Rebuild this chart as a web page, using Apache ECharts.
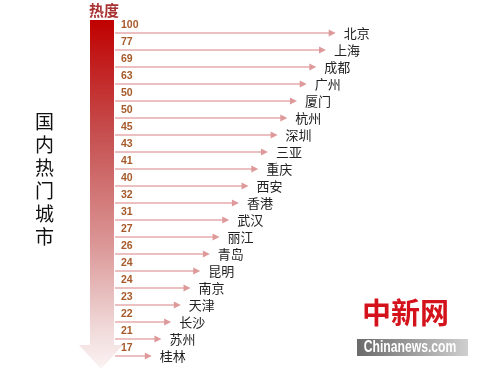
<!DOCTYPE html>
<html><head><meta charset="utf-8">
<script src="https://cdn.jsdelivr.net/npm/echarts@6/dist/echarts.min.js"></script>
<style>html,body{margin:0;padding:0;background:#fff}#c{width:500px;height:370px}</style>
</head><body><div id="c"></div>
<script>
const cities = ['北京','上海','成都','广州','厦门','杭州','深圳','三亚','重庆','西安','香港','武汉','丽江','青岛','昆明','南京','天津','长沙','苏州','桂林'];
const heat = [100,77,69,63,50,50,45,43,41,40,32,31,27,26,24,24,23,22,21,17];
const sideTitle = '国内热门城市';
const heatTitle = '热度';
const brandCn = '中新网';
const brandEn = 'Chinanews.com';

const N = cities.length;
// arrow length follows the ranking (as in the original infographic)
const rows = cities.map((c, i) => [N - i, i, heat[i]]);
const XMIN = -2.8, XMAX = 30;

const chart = echarts.init(document.getElementById('c'), null, {renderer: 'canvas'});
chart.setOption({
  animation: false,
  backgroundColor: '#fff',
  grid: {left: 115, right: 67.5, top: 24.5, bottom: 5.5},
  xAxis: {type: 'value', min: XMIN, max: XMAX, show: false},
  yAxis: {type: 'category', data: cities, inverse: true, show: false},
  series: [{
    type: 'custom',
    data: rows,
    encode: {x: 0, y: 1},
    renderItem(params, api) {
      const idx = api.value(1);
      const start = api.coord([XMIN, idx]);
      const end = api.coord([api.value(0), idx]);
      const y = start[1];
      const ah = 7, aw = 3.5;
      return {type: 'group', children: [
        {type: 'line', shape: {x1: start[0], y1: y, x2: end[0] - ah + 1, y2: y},
          style: {stroke: '#e6abab', lineWidth: 1.5}},
        {type: 'polygon', shape: {points: [[end[0], y], [end[0] - ah, y - aw], [end[0] - ah, y + aw]]},
          style: {fill: '#de9a9a'}},
        {type: 'text', style: {x: start[0] + 6, y: y - 8, text: String(api.value(2)), fill: '#a65a2a',
          font: 'bold 10.5px "Liberation Sans", Arial, sans-serif', verticalAlign: 'middle', align: 'left'}},
        {type: 'text', style: {x: end[0] + 8, y: y, text: cities[idx], fill: '#222',
          font: '13px "Noto Sans CJK SC"', verticalAlign: 'middle', align: 'left'}}
      ]};
    }
  }],
  graphic: [
    {type: 'polygon', z: -1,
      shape: {points: [[90, 20], [114, 20], [114, 345], [123, 345], [101, 369], [79, 345], [90, 345]]},
      style: {fill: new echarts.graphic.LinearGradient(0, 0, 0, 1, [
        {offset: 0, color: '#c00000'},
        {offset: 0.33, color: '#c65050'},
        {offset: 0.65, color: '#dc9898'},
        {offset: 0.88, color: '#f0d8d8'},
        {offset: 1, color: '#fbf3f3'}
      ])}},
    {type: 'text', left: 89, top: 3,
      style: {text: heatTitle, fill: '#a83232', font: 'bold 15px "Noto Sans CJK SC"'}},
    {type: 'text', left: 35, top: 110,
      style: {text: sideTitle.split('').join('\n'), fill: '#111', font: '19px "Noto Sans CJK SC"', lineHeight: 23}},
    {type: 'text', left: 362, top: 298,
      style: {text: brandCn, fill: '#d4121b', font: 'bold 29px "Noto Sans CJK SC"',
        shadowColor: 'rgba(0,0,0,0.25)', shadowOffsetX: 2, shadowOffsetY: 2, shadowBlur: 2}},
    {type: 'rect', shape: {x: 357, y: 339, width: 111, height: 17},
      style: {fill: new echarts.graphic.LinearGradient(0, 0, 1, 0, [
        {offset: 0, color: '#6a6a6a'}, {offset: 1, color: '#cfcfcf'}])}},
    {type: 'text', x: 410, y: 348, scaleX: 0.76,
      style: {text: brandEn, fill: '#fff', align: 'center', verticalAlign: 'middle',
        font: 'bold 16px "Liberation Sans", Arial, sans-serif'}}
  ]
});
</script>
</body></html>
